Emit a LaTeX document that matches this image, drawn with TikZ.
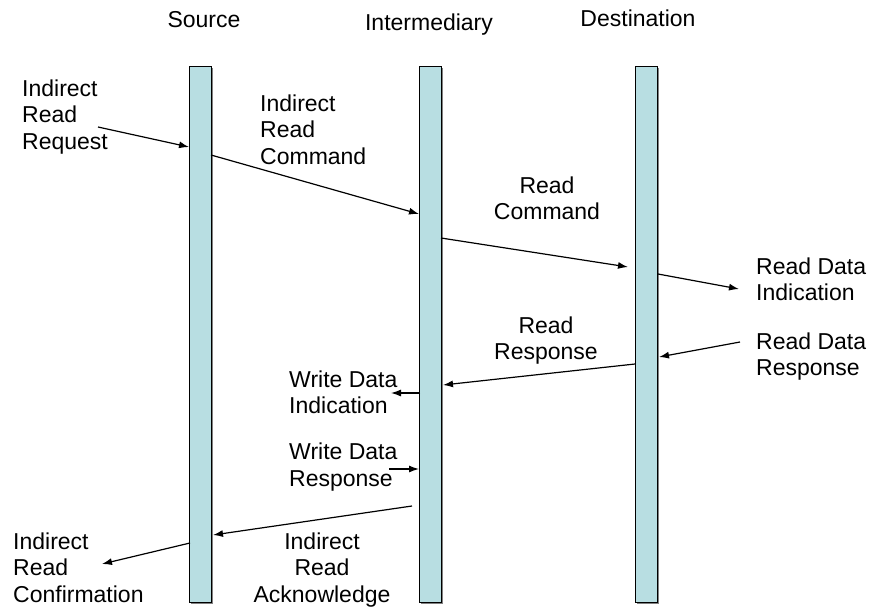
\documentclass[tikz,border=0pt]{standalone}
\usepackage{fontspec}
\setmainfont{Liberation Sans}
\usetikzlibrary{arrows.meta}
\definecolor{barfill}{RGB}{184,222,226}
\definecolor{barshade}{RGB}{128,128,128}
\tikzset{
  lifeline/.style={draw=black, line width=1.1pt, fill=barfill, minimum width=22pt,
    minimum height=536pt, inner sep=0pt, anchor=north west},
  lbl/.style={inner sep=0pt, font=\fontsize{23}{26.5}\selectfont},
  lbll/.style={lbl, align=left, anchor=base west},
  lblc/.style={lbl, align=center, anchor=base},
  msg/.style={draw=black, line width=1.2pt, -{Latex[length=10pt,width=7pt]}},
}
\begin{document}
\begin{tikzpicture}[x=1pt,y=-1pt]
\useasboundingbox[fill=white] (0,0) rectangle (879,616);

% headers
\node[lblc] (hsrc) at (204,27) {Source};
\node[lblc] (hmid) at (429,30) {Intermediary};
\node[lblc] (hdst) at (638,26) {Destination};

% lifelines with a grey drop shadow
\foreach \x in {189,419,635}
  \fill[barshade] (\x+2,68) rectangle (\x+24,604);
\node[lifeline] (src) at (189,66) {};
\node[lifeline] (mid) at (419,66) {};
\node[lifeline] (dst) at (635,66) {};

% end points of the messages
\coordinate (p1a) at (98,127);   \coordinate (p1b) at (189,147);
\coordinate (p2a) at (211,155);  \coordinate (p2b) at (419,214);
\coordinate (p3a) at (441,238);  \coordinate (p3b) at (628,267);
\coordinate (p4a) at (658,274);  \coordinate (p4b) at (739,289);
\coordinate (p5a) at (740,342);  \coordinate (p5b) at (659,357);
\coordinate (p6a) at (635,364);  \coordinate (p6b) at (443,385);
\coordinate (p7a) at (420,393);  \coordinate (p7b) at (391,393);
\coordinate (p8a) at (389,469);  \coordinate (p8b) at (419,469);
\coordinate (p9a) at (412,506);  \coordinate (p9b) at (213,535);
\coordinate (p10a) at (190,543); \coordinate (p10b) at (102,564);

\draw[msg] (p1a) -- (p1b);
\draw[msg] (p2a) -- (p2b);
\draw[msg] (p3a) -- (p3b);
\draw[msg] (p4a) -- (p4b);
\draw[msg] (p5a) -- (p5b);
\draw[msg] (p6a) -- (p6b);
\draw[msg] (p7a) -- (p7b);
\draw[msg] (p8a) -- (p8b);
\draw[msg] (p9a) -- (p9b);
\draw[msg] (p10a) -- (p10b);

% message labels (base anchor sits on the last line)
\node[lbll] (t1) at (22,149) {Indirect\\Read\\Request};
\node[lbll] (t2) at (260,164) {Indirect\\Read\\Command};
\node[lblc] (t3) at (547,219.5) {Read\\Command};
\node[lbll] (t4) at (756,300.5) {Read Data\\Indication};
\node[lblc] (t5) at (546,359.5) {Read\\Response};
\node[lbll] (t6) at (756,375.5) {Read Data\\Response};
\node[lbll] (t7) at (289,413.5) {Write Data\\Indication};
\node[lbll] (t8) at (289,486) {Write Data\\Response};
\node[lbll] (t9) at (13,602) {Indirect\\Read\\Confirmation};
\node[lblc] (t10) at (322,602) {Indirect\\Read\\Acknowledge};
\end{tikzpicture}
\end{document}
